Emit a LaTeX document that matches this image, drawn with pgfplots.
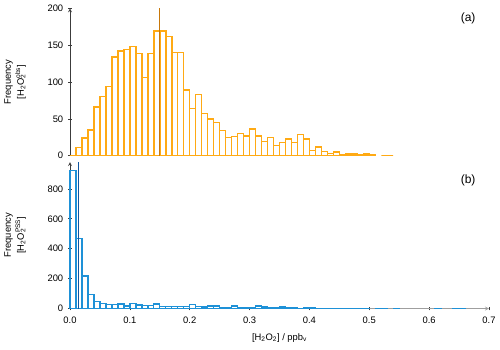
\documentclass[border=0pt]{standalone}
\usepackage{fontspec}
\setmainfont{Liberation Sans}
\usepackage{pgfplots}
\pgfplotsset{compat=1.18}
\definecolor{orbar}{RGB}{255,170,20}
\definecolor{orline}{RGB}{200,120,10}
\definecolor{blbar}{RGB}{30,145,215}
\definecolor{blline}{RGB}{15,85,160}
\definecolor{axgray}{RGB}{60,60,60}
\newcommand{\hoo}[1]{[H\textsubscript{2}O\rlap{\textsubscript{2}}\textsuperscript{#1}]}
\begin{document}
\begin{tikzpicture}[x=1pt,y=1pt]
\pgfplotsset{
  every axis/.append style={
    scale only axis, width=419pt, xmin=0, xmax=0.7,
    tick align=outside, major tick length=3.5pt,
    tick style={color=axgray, line width=0.7pt},
    axis line style={-, color=axgray, line width=0.8pt},
    /pgf/number format/assume math mode=true,
    ticklabel style={font=\fontsize{9.4}{11}\selectfont},
    label style={font=\fontsize{9.4}{11}\selectfont},
    yticklabel style={xshift=-1.5pt},
    clip=false,
  },
}
% top panel
\begin{axis}[at={(70pt,193.3pt)}, anchor=south west, height=147.4pt,
  ymin=0, ymax=200, ytick={0,50,100,150,200},
  axis x line=none, axis y line=left,
  ylabel={Frequency\\[2pt]\hoo{obs}},
  ylabel style={at={(axis description cs:-0.097,0.5)}, anchor=south, align=center},
]
\addplot[ybar, bar width=0.01, bar shift=0pt, color=orbar, draw=orbar, fill=none, line width=1.5pt] coordinates {
(0.005,0) (0.015,11) (0.025,24) (0.035,35) (0.045,66) (0.055,80) (0.065,94) (0.075,134)
(0.085,142) (0.095,144) (0.105,148) (0.115,139) (0.125,106) (0.135,139) (0.145,169) (0.155,169)
(0.165,162) (0.175,140) (0.185,140) (0.195,89) (0.205,64) (0.215,83) (0.225,57) (0.235,50)
(0.245,45) (0.255,34) (0.265,25) (0.275,26) (0.285,30) (0.295,27) (0.305,36) (0.315,27)
(0.325,19) (0.335,25) (0.345,14) (0.355,18) (0.365,23) (0.375,18) (0.385,29) (0.395,23)
(0.405,7) (0.415,12) (0.425,6) (0.435,3) (0.445,5) (0.455,1) (0.465,2) (0.475,2)
(0.485,1) (0.495,2) (0.505,1) (0.525,0) (0.535,0)
};
\addplot[orline, line width=1.3pt] coordinates {(0.15,0) (0.15,200)};
\node[font=\fontsize{12}{14}\selectfont] at (axis cs:0.6651,186) {(a)};
\end{axis}
% bottom panel
\begin{axis}[at={(70pt,40.5pt)}, anchor=south west, height=146.5pt,
  ymin=0, ymax=980, ytick={0,200,400,600,800},
  xtick={0,0.1,0.2,0.3,0.4,0.5,0.6,0.7},
  xticklabel style={/pgf/number format/fixed, /pgf/number format/fixed zerofill, /pgf/number format/precision=1, yshift=-3pt},
  axis x line=bottom, axis y line=left,
  x axis line style={color=gray!75},
  xlabel={[H\textsubscript{2}O\textsubscript{2}] / ppb\textsubscript{v}},
  xlabel style={at={(axis description cs:0.5,-0.2)}, anchor=center},
  ylabel={Frequency\\[2pt]\hoo{PSS}},
  ylabel style={at={(axis description cs:-0.097,0.5)}, anchor=south, align=center},
]
\addplot[ybar, bar width=0.01, bar shift=0pt, color=blbar, draw=blbar, fill=none, line width=1.4pt] coordinates {
(0.005,922) (0.015,469) (0.025,217) (0.035,94) (0.045,47) (0.055,35) (0.065,28) (0.075,28)
(0.085,30) (0.095,17) (0.105,33) (0.115,23) (0.125,22) (0.135,21) (0.145,29) (0.155,15)
(0.165,12) (0.175,14) (0.185,14) (0.195,12) (0.205,25) (0.215,15) (0.225,9) (0.235,16)
(0.245,17) (0.255,8) (0.265,7) (0.275,16) (0.285,7) (0.295,5) (0.305,5) (0.315,16)
(0.325,9) (0.335,4) (0.345,4) (0.355,11) (0.365,4) (0.375,3) (0.385,2) (0.395,4)
(0.405,4) (0.415,2) (0.425,1) (0.435,1) (0.445,1) (0.455,1) (0.465,1) (0.475,1)
(0.485,1) (0.495,1) (0.515,1) (0.525,1) (0.545,1) (0.615,1) (0.645,1) (0.655,1)
};
\addplot[blline, line width=1.3pt] coordinates {(0.014,0) (0.014,980)};
\node[font=\fontsize{12}{14}\selectfont] at (axis cs:0.6651,860) {(b)};
\end{axis}
\path[use as bounding box] (0pt,0pt) rectangle (500pt,349pt);
\end{tikzpicture}
\end{document}
